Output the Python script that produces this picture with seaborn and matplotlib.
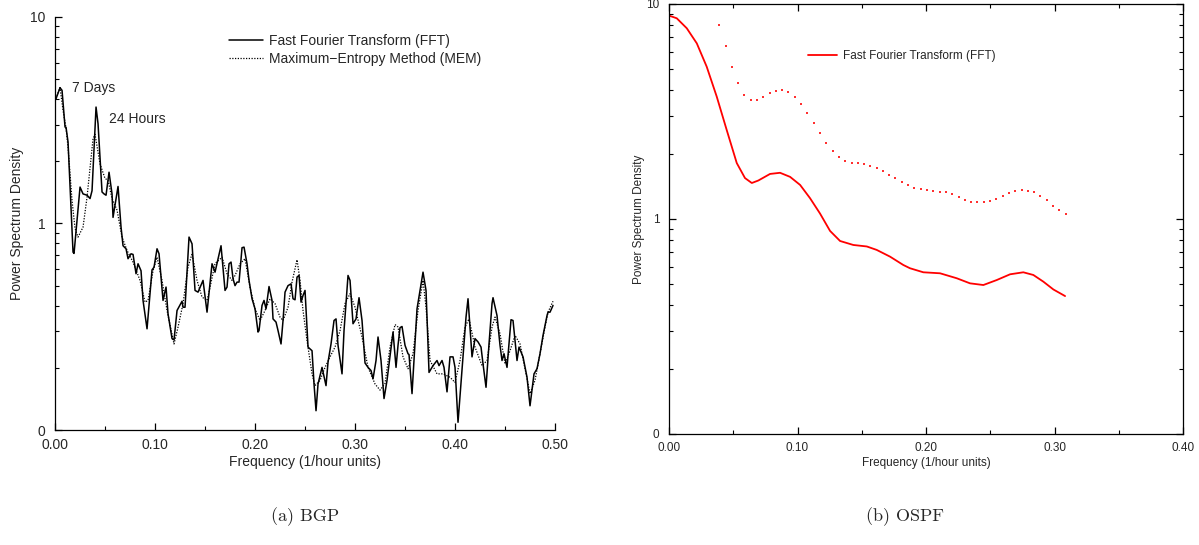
import numpy as np
import pandas as pd
import matplotlib
matplotlib.use("Agg")
import matplotlib.pyplot as plt
import matplotlib.ticker as mticker
import seaborn as sns

# BGP panel, FFT spectrum (frequency in 1/hour, PSD)
bgp_fft_freq = [0.001, 0.005, 0.007, 0.010, 0.011, 0.013, 0.018, 0.019, 0.025, 0.028,
                0.032, 0.035, 0.037, 0.041, 0.043, 0.045, 0.047, 0.049, 0.051, 0.054,
                0.057, 0.058, 0.063, 0.066, 0.068, 0.071, 0.073, 0.076, 0.078, 0.081,
                0.083, 0.086, 0.088, 0.092, 0.095, 0.097, 0.099, 0.102, 0.104, 0.108,
                0.111, 0.113, 0.117, 0.119, 0.122, 0.127, 0.128, 0.130, 0.134, 0.137,
                0.140, 0.143, 0.148, 0.152, 0.157, 0.160, 0.166, 0.170, 0.172, 0.174,
                0.176, 0.178, 0.180, 0.182, 0.184, 0.187, 0.189, 0.192, 0.194, 0.197,
                0.200, 0.203, 0.204, 0.207, 0.209, 0.211, 0.214, 0.217, 0.218, 0.221,
                0.223, 0.226, 0.228, 0.230, 0.233, 0.236, 0.238, 0.240, 0.242, 0.244,
                0.246, 0.248, 0.250, 0.253, 0.257, 0.259, 0.261, 0.263, 0.267, 0.271,
                0.273, 0.276, 0.279, 0.281, 0.283, 0.287, 0.289, 0.293, 0.295, 0.298,
                0.301, 0.304, 0.307, 0.310, 0.313, 0.316, 0.318, 0.321, 0.323, 0.326,
                0.329, 0.332, 0.338, 0.341, 0.343, 0.345, 0.347, 0.350, 0.353, 0.354,
                0.357, 0.362, 0.368, 0.371, 0.374, 0.378, 0.382, 0.384, 0.387, 0.389,
                0.392, 0.395, 0.398, 0.400, 0.403, 0.408, 0.411, 0.413, 0.417, 0.420,
                0.423, 0.426, 0.428, 0.431, 0.434, 0.437, 0.438, 0.442, 0.445, 0.447,
                0.449, 0.452, 0.456, 0.458, 0.462, 0.464, 0.468, 0.472, 0.475, 0.479,
                0.482, 0.485, 0.488, 0.492, 0.493, 0.495, 0.498]
bgp_fft_psd = [4.02, 4.54, 4.41, 2.93, 2.92, 2.48, 0.726, 0.716, 1.50, 1.39,
               1.37, 1.32, 1.44, 3.66, 3.04, 2.09, 1.42, 1.39, 1.37, 1.77,
               1.39, 1.07, 1.51, 0.96, 0.78, 0.754, 0.675, 0.713, 0.708, 0.571,
               0.638, 0.59, 0.424, 0.309, 0.457, 0.596, 0.614, 0.754, 0.713, 0.424,
               0.492, 0.365, 0.277, 0.273, 0.379, 0.42, 0.393, 0.393, 0.859, 0.797,
               0.474, 0.465, 0.53, 0.372, 0.638, 0.581, 0.78, 0.474, 0.492, 0.638,
               0.65, 0.54, 0.50, 0.52, 0.52, 0.763, 0.768, 0.638, 0.53, 0.432,
               0.386, 0.298, 0.303, 0.401, 0.424, 0.386, 0.495, 0.424, 0.345, 0.333,
               0.303, 0.261, 0.339, 0.465, 0.50, 0.51, 0.432, 0.427, 0.55, 0.56,
               0.416, 0.448, 0.474, 0.252, 0.242, 0.167, 0.124, 0.167, 0.201, 0.164,
               0.213, 0.261, 0.339, 0.345, 0.257, 0.187, 0.303, 0.56, 0.53, 0.327,
               0.345, 0.437, 0.339, 0.211, 0.201, 0.194, 0.177, 0.217, 0.282, 0.217,
               0.142, 0.174, 0.298, 0.201, 0.257, 0.313, 0.317, 0.257, 0.234, 0.232,
               0.15, 0.386, 0.581, 0.474, 0.19, 0.205, 0.217, 0.205, 0.217, 0.201,
               0.153, 0.226, 0.226, 0.201, 0.109, 0.226, 0.352, 0.432, 0.226, 0.277,
               0.267, 0.252, 0.209, 0.161, 0.261, 0.409, 0.437, 0.358, 0.257, 0.217,
               0.234, 0.201, 0.342, 0.339, 0.217, 0.252, 0.226, 0.180, 0.131, 0.187,
               0.198, 0.234, 0.287, 0.358, 0.372, 0.372, 0.401]

# BGP panel, maximum-entropy spectrum
bgp_mem_freq = [0.001, 0.005, 0.008, 0.011, 0.013, 0.017, 0.020, 0.023, 0.028, 0.032,
                0.038, 0.040, 0.045, 0.050, 0.053, 0.057, 0.062, 0.067, 0.072, 0.078,
                0.085, 0.090, 0.093, 0.098, 0.102, 0.107, 0.112, 0.119, 0.123, 0.128,
                0.133, 0.137, 0.142, 0.147, 0.152, 0.155, 0.160, 0.167, 0.172, 0.177,
                0.180, 0.185, 0.190, 0.195, 0.200, 0.205, 0.210, 0.215, 0.220, 0.225,
                0.228, 0.233, 0.237, 0.242, 0.245, 0.248, 0.252, 0.257, 0.260, 0.265,
                0.270, 0.275, 0.280, 0.285, 0.290, 0.295, 0.300, 0.307, 0.313, 0.320,
                0.325, 0.330, 0.335, 0.340, 0.343, 0.348, 0.353, 0.358, 0.363, 0.368,
                0.371, 0.375, 0.382, 0.388, 0.395, 0.400, 0.405, 0.410, 0.414, 0.420,
                0.427, 0.432, 0.437, 0.440, 0.445, 0.450, 0.455, 0.460, 0.465, 0.470,
                0.475, 0.480, 0.485, 0.490, 0.493, 0.498]
bgp_mem_psd = [4.03, 4.55, 3.53, 2.89, 2.34, 1.29, 0.946, 0.859, 0.96, 1.34,
               2.57, 2.70, 1.94, 1.65, 1.62, 1.32, 1.16, 0.859, 0.74, 0.65,
               0.53, 0.416, 0.424, 0.59, 0.686, 0.53, 0.379, 0.261, 0.315, 0.409,
               0.614, 0.713, 0.53, 0.44, 0.424, 0.49, 0.64, 0.686, 0.571, 0.53,
               0.56, 0.638, 0.675, 0.49, 0.386, 0.339, 0.379, 0.432, 0.409, 0.352,
               0.339, 0.393, 0.52, 0.667, 0.53, 0.379, 0.271, 0.187, 0.164, 0.174,
               0.201, 0.226, 0.252, 0.303, 0.409, 0.457, 0.393, 0.282, 0.201, 0.167,
               0.156, 0.168, 0.252, 0.324, 0.315, 0.226, 0.198, 0.234, 0.379, 0.53,
               0.393, 0.217, 0.187, 0.187, 0.180, 0.170, 0.217, 0.315, 0.345, 0.252,
               0.205, 0.217, 0.315, 0.352, 0.292, 0.209, 0.242, 0.287, 0.261, 0.198,
               0.150, 0.174, 0.234, 0.315, 0.372, 0.42]

# OSPF panel, FFT spectrum
ospf_fft_freq = [0.000, 0.006, 0.0138, 0.0216, 0.0293, 0.0371, 0.0449, 0.0527, 0.0591, 0.0644,
                 0.0695, 0.0786, 0.0864, 0.0942, 0.102, 0.1097, 0.1175, 0.1253, 0.1331, 0.1434,
                 0.1539, 0.1616, 0.172, 0.1823, 0.1875, 0.1979, 0.2109, 0.2239, 0.2342, 0.2446,
                 0.255, 0.2654, 0.2757, 0.2835, 0.2913, 0.2991, 0.3082]
ospf_fft_psd = [8.83, 8.58, 7.71, 6.56, 5.11, 3.71, 2.59, 1.82, 1.55, 1.47,
                1.51, 1.62, 1.64, 1.57, 1.44, 1.25, 1.06, 0.88, 0.79, 0.757,
                0.745, 0.718, 0.668, 0.611, 0.59, 0.565, 0.559, 0.53, 0.502, 0.493,
                0.52, 0.553, 0.565, 0.549, 0.511, 0.47, 0.438]

# OSPF panel, second (dotted) spectrum
ospf_mem_freq = [0.0345, 0.0389, 0.0441, 0.049, 0.0537, 0.0586, 0.0636, 0.0682, 0.0734, 0.0783,
                 0.0833, 0.0879, 0.0929, 0.0978, 0.1027, 0.1076, 0.1126, 0.1175, 0.1224, 0.1274,
                 0.1323, 0.1372, 0.1422, 0.1468, 0.1518, 0.1567, 0.1616, 0.1663, 0.1712, 0.1761,
                 0.1811, 0.1862, 0.1909, 0.1959, 0.2008, 0.2057, 0.2107, 0.2156, 0.2205, 0.2254,
                 0.2304, 0.235, 0.2399, 0.2449, 0.2498, 0.2547, 0.2597, 0.2646, 0.2695, 0.2745,
                 0.2794, 0.284, 0.2889, 0.2939, 0.2988, 0.3037, 0.3087]
ospf_mem_psd = [10.0, 7.99, 6.38, 5.11, 4.28, 3.77, 3.58, 3.58, 3.68, 3.84,
                3.95, 3.98, 3.88, 3.71, 3.43, 3.12, 2.80, 2.52, 2.26, 2.08,
                1.95, 1.87, 1.83, 1.82, 1.80, 1.76, 1.73, 1.68, 1.61, 1.55,
                1.49, 1.44, 1.40, 1.38, 1.36, 1.35, 1.34, 1.33, 1.31, 1.27,
                1.23, 1.20, 1.20, 1.20, 1.21, 1.24, 1.28, 1.32, 1.35, 1.36,
                1.35, 1.33, 1.28, 1.22, 1.15, 1.10, 1.06]

y_ticks = [0.1, 1, 10]
y_tick_labels = ["0", "1", "10"]

sns.set_style("ticks")
plt.rcParams["font.family"] = ["Liberation Sans", "DejaVu Sans"]
plt.rcParams["xtick.direction"] = "in"
plt.rcParams["ytick.direction"] = "in"

fig = plt.figure(figsize=(11.99, 5.45), dpi=100)
ax1 = fig.add_axes([0.0459, 0.211, 0.417, 0.758])
ax2 = fig.add_axes([0.558, 0.2037, 0.4287, 0.789])


def style_log_axis(ax, fs, xmax, xlabels):
    ax.set_yscale("log")
    ax.set_ylim(0.1, 10)
    ax.set_xlim(0, xmax)
    ax.yaxis.set_major_locator(mticker.FixedLocator(y_ticks))
    ax.yaxis.set_major_formatter(mticker.FixedFormatter(y_tick_labels))
    ax.yaxis.set_minor_locator(mticker.LogLocator(base=10, subs=np.arange(2, 10)))
    ax.yaxis.set_minor_formatter(mticker.NullFormatter())
    ax.set_xticks(xlabels)
    ax.set_xticklabels([f"{v:.2f}" for v in xlabels])
    ax.xaxis.set_minor_locator(mticker.MultipleLocator(0.05))
    ax.tick_params(which="major", length=5, width=0.9, labelsize=fs, color="black")
    ax.tick_params(which="minor", length=3, width=0.8, color="black")
    ax.tick_params(axis="x", which="major", pad=6)
    ax.tick_params(axis="y", which="major", pad=7)
    ax.set_xlabel("Frequency (1/hour units)", fontsize=fs, labelpad=2)
    ax.set_ylabel("Power Spectrum Density", fontsize=fs)
    for s in ax.spines.values():
        s.set_linewidth(0.9)
        s.set_color("black")


# ---- (a) BGP ----
bgp_fft = pd.DataFrame({"freq": bgp_fft_freq, "psd": bgp_fft_psd})
bgp_mem = pd.DataFrame({"freq": bgp_mem_freq, "psd": bgp_mem_psd})
sns.lineplot(data=bgp_fft, x="freq", y="psd", ax=ax1, color="black", lw=1.1,
             estimator=None, sort=False, label="Fast Fourier Transform (FFT)")
sns.lineplot(data=bgp_mem, x="freq", y="psd", ax=ax1, color="black", lw=0.9,
             linestyle=(0, (1, 1.2)), estimator=None, sort=False,
             label="Maximum\u2212Entropy Method (MEM)")
style_log_axis(ax1, 10, 0.5, [0.0, 0.1, 0.2, 0.3, 0.4, 0.5])
sns.despine(ax=ax1)
ax1.text(0.017, 4.55, "7 Days", fontsize=10, va="center")
ax1.text(0.054, 3.19, "24 Hours", fontsize=10, va="center")
ax1.legend(loc="upper left", bbox_to_anchor=(0.347, 0.958), frameon=False,
           fontsize=10, handlelength=2.45, handletextpad=0.45, labelspacing=0.25,
           borderpad=0, borderaxespad=0)

# ---- (b) OSPF ----
ospf_fft = pd.DataFrame({"freq": ospf_fft_freq, "psd": ospf_fft_psd})
ospf_mem = pd.DataFrame({"freq": ospf_mem_freq, "psd": ospf_mem_psd})
sns.lineplot(data=ospf_fft, x="freq", y="psd", ax=ax2, color="#ff0000", lw=1.3,
             estimator=None, sort=False, label="Fast Fourier Transform (FFT)")
sns.lineplot(data=ospf_mem, x="freq", y="psd", ax=ax2, color="#ff3030", lw=0,
             marker="s", markersize=1.6, markeredgewidth=0, estimator=None,
             sort=False, legend=False)
style_log_axis(ax2, 8.5, 0.4, [0.0, 0.1, 0.2, 0.3, 0.4])
ax2.set_ylabel("Power Spectrum Density", fontsize=8.5, labelpad=1)
ax2.tick_params(which="both", top=True, right=True)
ax2.legend(loc="upper left", bbox_to_anchor=(0.27, 0.892), frameon=False,
           fontsize=8.5, handlelength=2.5, handletextpad=0.5,
           borderpad=0, borderaxespad=0)

# captions
cap_font = ["cmr10", "DejaVu Serif"]
fig.text(305 / 1199, 1 - 517 / 545, "(a) BGP", ha="center", va="center",
         fontsize=13, family=cap_font)
fig.text(905 / 1199, 1 - 517 / 545, "(b) OSPF", ha="center", va="center",
         fontsize=13, family=cap_font)

fig.savefig("out.png", dpi=100)
